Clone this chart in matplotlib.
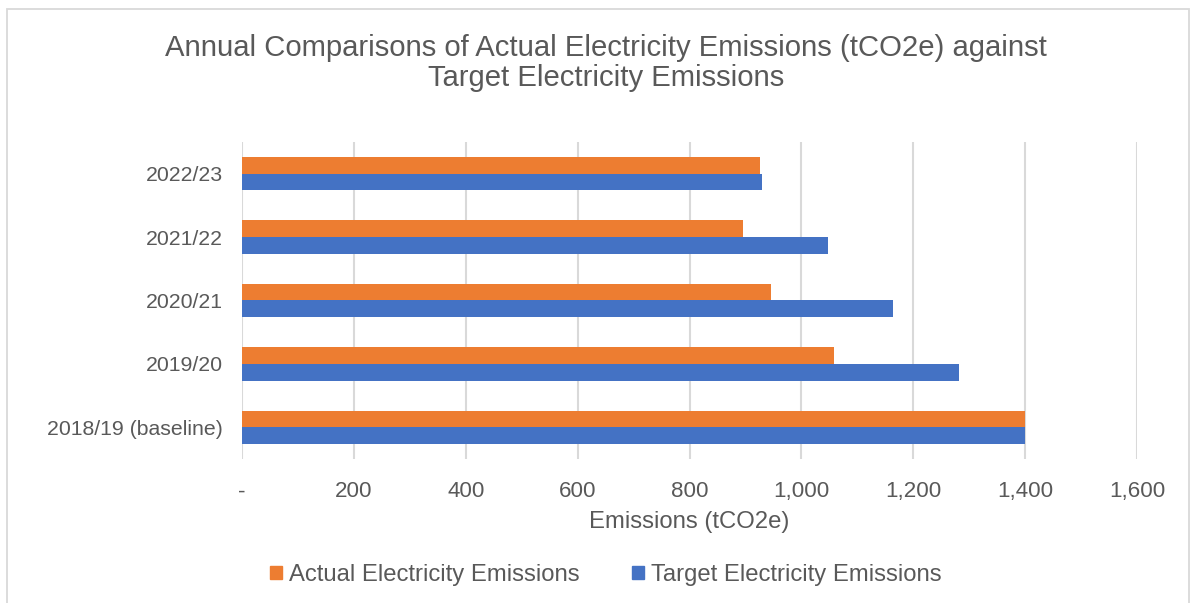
import matplotlib
matplotlib.use("Agg")
import matplotlib.pyplot as plt
from matplotlib.patches import Rectangle, Patch
from matplotlib.ticker import FuncFormatter

categories = ["2018/19 (baseline)", "2019/20", "2020/21", "2021/22", "2022/23"]
actual = [1400, 1059, 946, 895, 926]
target = [1400, 1281, 1164, 1047, 930]
series_names = ["Actual Electricity Emissions", "Target Electricity Emissions"]
xticks = [0, 200, 400, 600, 800, 1000, 1200, 1400, 1600]

ORANGE = "#ED7D31"
BLUE = "#4472C4"
TXT = "#595959"
GRID = "#D9D9D9"

plt.rcParams['font.family'] = ['Liberation Sans', 'DejaVu Sans']

W, H = 1196, 603
fig = plt.figure(figsize=(W / 100, H / 100), dpi=100)

# outer chart border
fig.add_artist(Rectangle((7 / W, -0.05), (1189 - 7) / W, 1 - 9 / H + 0.05,
                         transform=fig.transFigure, fill=False,
                         edgecolor=GRID, linewidth=1.3))

ax = fig.add_axes([242 / W, 1 - 459 / H, (1137 - 242) / W, (459 - 142) / H])

y = list(range(len(categories)))
bh = 0.263
ax.barh([v - bh / 2 for v in y], target, height=bh, color=BLUE, zorder=3)
ax.barh([v + bh / 2 for v in y], actual, height=bh, color=ORANGE, zorder=3)

ax.set_xlim(0, 1600)
ax.set_ylim(-0.5, len(categories) - 0.5)
ax.set_xticks(xticks)
ax.xaxis.set_major_formatter(FuncFormatter(lambda v, p: "-" if v == 0 else f"{int(v):,}"))
ax.set_yticks(y)
ax.set_yticklabels(categories)
ax.grid(axis="x", color=GRID, linewidth=1.5, zorder=0)
for s in ax.spines.values():
    s.set_visible(False)
ax.tick_params(axis="both", length=0, colors=TXT)
ax.tick_params(axis="x", pad=16, labelsize=17)
ax.tick_params(axis="y", pad=14, labelsize=15.5)
xl = ax.set_xlabel("Emissions (tCO2e)", fontsize=17.5, color=TXT, labelpad=6)

title = fig.text(606 / W, 1 - 63 / H,
                 "Annual Comparisons of Actual Electricity Emissions (tCO2e) against\nTarget Electricity Emissions",
                 ha="center", va="center", fontsize=21, color=TXT, linespacing=1.05)

handles = [Patch(color=ORANGE), Patch(color=BLUE)]
leg = fig.legend(handles, series_names, loc="center", bbox_to_anchor=(606 / W, 1 - 575 / H),
                 ncol=2, frameon=False, fontsize=17.2, labelcolor=TXT,
                 handlelength=0.5, handleheight=0.5, handletextpad=0.3, columnspacing=2.2)

# fit font sizes to the reference's measured text widths (pixels)
fig.canvas.draw()
r = fig.canvas.get_renderer()

def fit(t, target_w):
    w = t.get_window_extent(r).width
    t.set_fontsize(t.get_fontsize() * target_w / w)

ylab = ax.get_yticklabels()[0]
ys = ylab.get_fontsize() * 176 / ylab.get_window_extent(r).width
xlab = [t for t in ax.get_xticklabels() if t.get_text() == "1,000"][0]
xs = xlab.get_fontsize() * 56 / xlab.get_window_extent(r).width
ax.tick_params(axis="y", labelsize=ys)
ax.tick_params(axis="x", labelsize=xs)
fit(xl, 200)
lt = leg.get_texts()[0]
ls = lt.get_fontsize() * 290 / lt.get_window_extent(r).width
for t in leg.get_texts():
    t.set_fontsize(ls)
fit(title, 882)

fig.savefig("out.png", dpi=100)
